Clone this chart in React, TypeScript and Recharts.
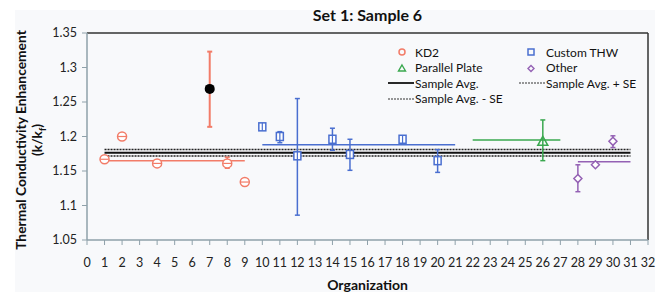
import React from 'react';
import {
  ComposedChart,
  Scatter,
  ErrorBar,
  XAxis,
  YAxis,
  ReferenceLine,
} from 'recharts';

// KD2 (circles)
const KD2_X = [1, 2, 4, 8, 9];
const KD2_Y = [1.167, 1.2, 1.161, 1.161, 1.134];
const KD2_LO = [0.002, 0.002, 0.002, 0.007, 0.002];
const KD2_HI = [0.002, 0.002, 0.002, 0.009, 0.002];

// KD2 outlier (filled black dot)
const OUT_X = [7];
const OUT_Y = [1.269];
const OUT_LO = [0.055];
const OUT_HI = [0.054];

// Custom THW (squares)
const THW_X = [10, 11, 12, 14, 15, 18, 20];
const THW_Y = [1.214, 1.2, 1.172, 1.196, 1.174, 1.196, 1.165];
const THW_LO = [0.003, 0.009, 0.086, 0.016, 0.023, 0.005, 0.017];
const THW_HI = [0.003, 0.007, 0.083, 0.016, 0.022, 0.005, 0.016];

// Parallel plate (triangles)
const PP_X = [26];
const PP_Y = [1.193];
const PP_LO = [0.028];
const PP_HI = [0.031];

// Other (diamonds)
const OTH_X = [28, 29, 30];
const OTH_Y = [1.139, 1.159, 1.193];
const OTH_LO = [0.019, 0.002, 0.009];
const OTH_HI = [0.02, 0.002, 0.008];

// group averages: [from, to, value]
const KD2_AVG = [1, 9, 1.165];
const THW_AVG = [10, 21, 1.188];
const PP_AVG = [22, 27, 1.195];
const OTH_AVG = [28, 31, 1.1635];

// sample average and standard error band
const SAMPLE_RANGE = [1, 31];
const SAMPLE_AVG = 1.1765;
const SAMPLE_SE = 0.0046;

const X_TICKS = [0, 1, 2, 3, 4, 5, 6, 7, 8, 9, 10, 11, 12, 13, 14, 15, 16, 17, 18, 19, 20, 21, 22, 23, 24, 25, 26, 27, 28, 29, 30, 31, 32];
const Y_TICKS = [1.05, 1.1, 1.15, 1.2, 1.25, 1.3, 1.35];

const C_KD2 = '#f27c68';
const C_THW = '#4a6fd0';
const C_PP = '#3aa84f';
const C_OTH = '#9461b4';
const AXIS = '#8fa1aa';
const FONT = 'Lato, "Open Sans", sans-serif';

const build = (xs: number[], ys: number[], lo: number[], hi: number[]) =>
  xs.map((x, i) => ({ x, y: ys[i], err: [lo[i], hi[i]] }));

const seg = (a: number[]) => [
  { x: a[0], y: a[2] },
  { x: a[1], y: a[2] },
];

const Circle = (p: any) => (
  <g>
    <circle cx={p.cx} cy={p.cy} r={4.5} fill="#fff" stroke={C_KD2} strokeWidth={1.5} />
    <line x1={p.cx - 4} x2={p.cx + 4} y1={p.cy} y2={p.cy} stroke={C_KD2} strokeWidth={1.2} />
  </g>
);
const Dot = (p: any) => <circle cx={p.cx} cy={p.cy} r={5} fill="#000" />;
const Square = (p: any) => (
  <g>
    <rect x={p.cx - 3.5} y={p.cy - 4} width={7} height={8} fill="#fff" stroke={C_THW} strokeWidth={1.5} />
    <line x1={p.cx} x2={p.cx} y1={p.cy - 4} y2={p.cy + 4} stroke={C_THW} strokeWidth={1.2} />
  </g>
);
const Tri = (p: any) => (
  <path
    d={`M${p.cx},${p.cy - 5} L${p.cx + 5},${p.cy + 4} L${p.cx - 5},${p.cy + 4} Z`}
    fill="none"
    stroke={C_PP}
    strokeWidth={1.5}
  />
);
const Diamond = (p: any) => (
  <path
    d={`M${p.cx},${p.cy - 4} L${p.cx + 4},${p.cy} L${p.cx},${p.cy + 4} L${p.cx - 4},${p.cy} Z`}
    fill="#fff"
    stroke={C_OTH}
    strokeWidth={1.5}
  />
);

export default function App() {
  return (
    <div style={{ position: 'absolute', left: 0, top: 0, width: 669, height: 300, background: '#fff', fontFamily: FONT }}>
      <div style={{ position: 'absolute', left: 15, top: 10, width: 640, height: 282, background: '#f8f9fb' }} />
      <div style={{ position: 'absolute', left: 0, top: 0 }}>
        <ComposedChart width={669} height={300} margin={{ top: 33, right: 21, bottom: 30, left: 47 }}>
          <XAxis
            type="number"
            dataKey="x"
            domain={[0, 32]}
            ticks={X_TICKS}
            interval={0}
            height={30}
            tickSize={5}
            tickMargin={13}
            axisLine={{ stroke: AXIS, strokeWidth: 1.5 }}
            tickLine={{ stroke: AXIS }}
            tick={{ fill: '#222', fontSize: 12.5, fontFamily: FONT }}
          />
          <YAxis
            type="number"
            domain={[1.05, 1.35]}
            ticks={Y_TICKS}
            interval={0}
            width={40}
            tickSize={5}
            tickMargin={5}
            axisLine={{ stroke: AXIS, strokeWidth: 1.5 }}
            tickLine={{ stroke: AXIS }}
            tick={{ fill: '#222', fontSize: 12.5, fontFamily: FONT }}
          />
          <ReferenceLine y={1.35} stroke="#333" strokeWidth={1.5} />
          <ReferenceLine x={32} stroke="#333" strokeWidth={1.5} />

          <ReferenceLine segment={seg(KD2_AVG)} stroke={C_KD2} strokeWidth={1.5} />
          <ReferenceLine segment={seg(THW_AVG)} stroke={C_THW} strokeWidth={1.5} />
          <ReferenceLine segment={seg(PP_AVG)} stroke={C_PP} strokeWidth={1.5} />
          <ReferenceLine segment={seg(OTH_AVG)} stroke={C_OTH} strokeWidth={1.5} />

          <ReferenceLine
            segment={seg([SAMPLE_RANGE[0], SAMPLE_RANGE[1], SAMPLE_AVG + SAMPLE_SE])}
            stroke="#222"
            strokeWidth={1.5}
            strokeDasharray="2 1"
          />
          <ReferenceLine
            segment={seg([SAMPLE_RANGE[0], SAMPLE_RANGE[1], SAMPLE_AVG])}
            stroke="#111"
            strokeWidth={2}
          />
          <ReferenceLine
            segment={seg([SAMPLE_RANGE[0], SAMPLE_RANGE[1], SAMPLE_AVG - SAMPLE_SE])}
            stroke="#222"
            strokeWidth={1.5}
            strokeDasharray="2 1"
          />

          <Scatter data={build(KD2_X, KD2_Y, KD2_LO, KD2_HI)} dataKey="y" shape={Circle} isAnimationActive={false}>
            <ErrorBar dataKey="err" direction="y" width={2.5} stroke={C_KD2} strokeWidth={1.5} />
          </Scatter>
          <Scatter data={build(OUT_X, OUT_Y, OUT_LO, OUT_HI)} dataKey="y" shape={Dot} isAnimationActive={false}>
            <ErrorBar dataKey="err" direction="y" width={2.5} stroke={C_KD2} strokeWidth={2} />
          </Scatter>
          <Scatter data={build(THW_X, THW_Y, THW_LO, THW_HI)} dataKey="y" shape={Square} isAnimationActive={false}>
            <ErrorBar dataKey="err" direction="y" width={2.5} stroke={C_THW} strokeWidth={1.5} />
          </Scatter>
          <Scatter data={build(PP_X, PP_Y, PP_LO, PP_HI)} dataKey="y" shape={Tri} isAnimationActive={false}>
            <ErrorBar dataKey="err" direction="y" width={2.5} stroke={C_PP} strokeWidth={1.5} />
          </Scatter>
          <Scatter data={build(OTH_X, OTH_Y, OTH_LO, OTH_HI)} dataKey="y" shape={Diamond} isAnimationActive={false}>
            <ErrorBar dataKey="err" direction="y" width={2.5} stroke={C_OTH} strokeWidth={1.5} />
          </Scatter>
        </ComposedChart>
      </div>

      {/* title */}
      <div style={{ position: 'absolute', left: 87, width: 561, top: 5, textAlign: 'center', fontWeight: 700, fontSize: 16, color: '#111' }}>
        Set 1: Sample 6
      </div>
      {/* x label */}
      <div style={{ position: 'absolute', left: 87, width: 561, top: 276, textAlign: 'center', fontWeight: 700, fontSize: 14, color: '#111' }}>
        Organization
      </div>
      {/* y label */}
      <div
        style={{
          position: 'absolute',
          left: 32,
          top: 140,
          width: 280,
          transform: 'translate(-50%, -50%) rotate(-90deg)',
          textAlign: 'center',
          fontWeight: 700,
          fontSize: 13.8,
          lineHeight: '16px',
          color: '#111',
        }}
      >
        Thermal Conductivity Enhancement
        <br />
        (k/k<sub style={{ fontSize: 9 }}>f</sub>)
      </div>

      {/* legend */}
      <svg style={{ position: 'absolute', left: 0, top: 0 }} width={669} height={300}>
        <g fontFamily={FONT} fontSize={12} fill="#111">
          <circle cx={402} cy={52} r={3} fill="none" stroke={C_KD2} strokeWidth={1.5} />
          <text x={415} y={57}>KD2</text>
          <path d="M402,65 L405.5,71 L398.5,71 Z" fill="none" stroke={C_PP} strokeWidth={1.4} />
          <text x={415} y={72}>Parallel Plate</text>
          <line x1={388} x2={414} y1={83} y2={83} stroke="#111" strokeWidth={1.8} />
          <text x={415} y={87.5}>Sample Avg.</text>
          <line x1={388} x2={414} y1={99} y2={99} stroke="#333" strokeWidth={1} strokeDasharray="2 1" />
          <text x={415} y={103}>Sample Avg. - SE</text>

          <rect x={528} y={49} width={6} height={6} fill="none" stroke={C_THW} strokeWidth={1.5} />
          <text x={546} y={57}>Custom THW</text>
          <path d="M531,65.5 L534,68.5 L531,71.5 L528,68.5 Z" fill="none" stroke={C_OTH} strokeWidth={1.4} />
          <text x={546} y={72}>Other</text>
          <line x1={519} x2={545} y1={83} y2={83} stroke="#333" strokeWidth={1} strokeDasharray="2 1" />
          <text x={546} y={87.5}>Sample Avg. + SE</text>
        </g>
      </svg>
    </div>
  );
}
